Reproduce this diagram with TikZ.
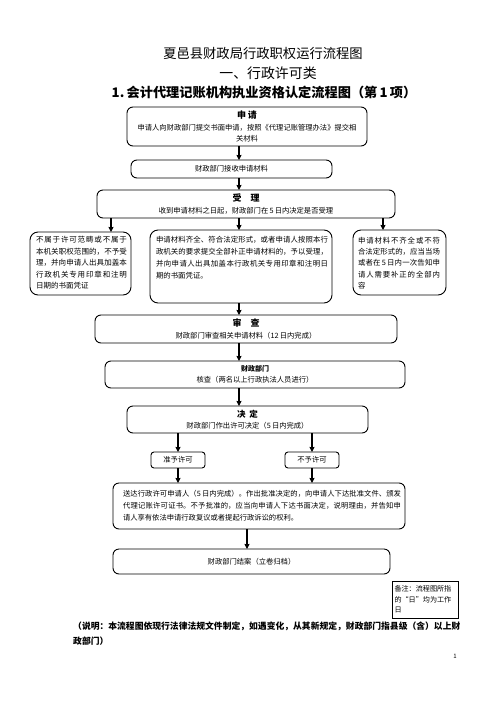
\documentclass[tikz,border=0pt]{standalone}
\usepackage{fontspec}
\setmainfont{Noto Sans CJK SC}
\XeTeXlinebreaklocale "zh"
\XeTeXlinebreakskip=0pt plus 2pt
\usetikzlibrary{arrows.meta, positioning}
\newcommand{\stagetitle}[2][9]{{\fontsize{#1}{#1}\selectfont\bfseries #2}}
\newcommand{\justlines}[1]{\parindent=0pt\parfillskip=0pt #1\hspace*{\fill}\par}
\tikzset{
    flowbox/.style={
        rectangle, rounded corners=6pt, draw=black, line width=0.9pt, fill=white,
        inner sep=0pt, outer sep=0pt, align=center, font=\fontsize{7.3}{11.5}\selectfont
    },
    stagebox/.style={flowbox, minimum height=28pt},
    sidebox/.style={flowbox, rounded corners=8pt},
    choicebox/.style={flowbox, rounded corners=3pt, minimum width=54pt, minimum height=16pt},
    boxtext/.style={inner sep=0pt, outer sep=0pt, align=justify},
    notebox/.style={
        rectangle, draw=black, line width=0.6pt, inner sep=2.5pt, outer sep=0pt, align=left,
        text width=61pt, minimum height=37pt, font=\fontsize{7.1}{10.7}\selectfont
    },
    connection/.style={draw=black, line width=1.2pt, -{Stealth[length=5pt, width=5pt, inset=0.5pt]}}
}
\begin{document}
\begin{tikzpicture}[x=1pt, y=-1pt]
\useasboundingbox (0,0) rectangle (496,702);

% Titles
\node[font=\fontsize{13.3}{16}\selectfont] (maintitle) at (263,53) {夏邑县财政局行政职权运行流程图};
\node[font=\fontsize{13.9}{16}\selectfont] (category) at (268,73) {一、行政许可类};
\node[font=\fontsize{13.2}{16}\selectfont\bfseries] (flowtitle) at (264,92) {1.\,会计代理记账机构执业资格认定流程图（第\,1\,项）};

% Application
\node[flowbox, minimum width=240pt, minimum height=39pt] (apply) at (247,126.5)
    {\stagetitle{申\hspace{2pt}请}\\申请人向财政部门提交书面申请，按照《代理记账管理办法》提交相\\关材料};
\node[flowbox, minimum width=201pt, minimum height=18pt, below=14pt of apply, xshift=-15.5pt] (receive) {财政部门接收申请材料};

% Acceptance
\node[stagebox, minimum width=298pt, below=12pt of receive, xshift=14.5pt] (accept)
    {\stagetitle{受\hspace{9pt}理}\\收到申请材料之日起，财政部门在\,5\,日内决定是否受理};

% Three outcomes
\node[sidebox, minimum width=182pt, minimum height=73pt, below=12pt of accept, xshift=-5pt] (complete) {};
\node[boxtext, text width=172pt, font=\fontsize{7.4}{11.8}\selectfont, below right=6.4pt and 6pt of complete.north west] (completetext)
    {\justlines{申请材料齐全、符合法定形式，或者申请人按照本行\par 政机关的要求提交全部补正申请材料的，予以受理，\par 并向申请人出具加盖本行政机关专用印章和注明日\par 期的书面凭证。}};

\node[sidebox, minimum width=101pt, minimum height=63pt, left=19pt of complete.north west, anchor=north east, yshift=-2pt] (noscope) {};
\node[boxtext, text width=91pt, font=\fontsize{7.5}{11.5}\selectfont, below right=4.5pt and 6pt of noscope.north west] (noscopetext)
    {\justlines{不属于许可范畴或不属于\par 本机关职权范围的，不予受\par 理，并向申请人出具加盖本\par 行政机关专用印章和注明\par 日期的书面凭证}};

\node[sidebox, minimum width=93pt, minimum height=65pt, right=21pt of complete.north east, anchor=north west] (incomplete) {};
\node[boxtext, text width=82pt, font=\fontsize{7.4}{11.1}\selectfont, below right=7.4pt and 5pt of incomplete.north west] (incompletetext)
    {\justlines{申请材料不齐全或不符\par 合法定形式的，应当当场\par 或者在\,5\,日内一次告知申\par 请人需要补正的全部内\par 容}};

% Review and check
\node[stagebox, minimum width=302pt, below=12pt of complete, xshift=5pt] (review)
    {\stagetitle{审\hspace{9pt}查}\\财政部门审查相关申请材料（12\,日内完成）};
\node[flowbox, minimum width=300pt, minimum height=27pt, below=18pt of review, xshift=9pt] (verify)
    {\stagetitle[7]{财政部门}\\核查（两名以上行政执法人员进行）};

% Decision
\node[flowbox, minimum width=241pt, minimum height=27pt, below=18pt of verify, xshift=-7.5pt] (decide)
    {\stagetitle[8.5]{决\hspace{4pt}定}\\财政部门作出许可决定（5\,日内完成）};
\node[choicebox, below=19pt of decide, xshift=-69.5pt] (grant) {准予许可};
\node[choicebox, right=80pt of grant] (deny) {不予许可};

% Notification and closing
\node[flowbox, minimum width=292pt, minimum height=46pt, below=15pt of grant, xshift=81pt] (notify) {};
\node[boxtext, text width=278pt, font=\fontsize{7.3}{12}\selectfont, below right=7pt and 10pt of notify.north west] (notifytext)
    {\parindent=0pt{\parfillskip=0pt 送达行政许可申请人（5\,日内完成）。作出批准决定的，向申请人下达批准文件、颁发\par 代理记账许可证书。不予批准的，应当向申请人下达书面决定，说明理由，并告知申\par}请人享有依法申请行政复议或者提起行政诉讼的权利。\par};
\node[flowbox, minimum width=277pt, minimum height=25pt, below=20pt of notify, xshift=-7.5pt] (close) {财政部门结案（立卷归档）};

% Remark
\node[notebox, below=7pt of close.south east, anchor=north west, xshift=2pt] (remark) {备注：流程图所指\\的“日”均为工作\\日};

% Explanation
\node[anchor=north west, inner sep=0pt, align=left, font=\fontsize{8.8}{15}\selectfont\bfseries] (explain) at (73,621.5)
    {（说明：本流程图依现行法律法规文件制定，如遇变化，从其新规定，财政部门指县级（含）以上财\\政部门）};
\node[font=\fontsize{6}{7}\selectfont] (pagenum) at (455,656) {1};

% Connections
\coordinate (trunk) at (239,0);
\coordinate (leftdrop) at ([xshift=14pt]accept.south west);
\coordinate (rightdrop) at ([xshift=-12pt]accept.south east);
\coordinate (closedrop) at ([xshift=-4.5pt]close.north);
\draw[connection] (apply.south -| trunk) -- (receive.north -| trunk);
\draw[connection] (receive.south -| trunk) -- (accept.north -| trunk);
\draw[connection] (leftdrop) -- (leftdrop |- noscope.north);
\draw[connection] (accept.south -| trunk) -- (complete.north -| trunk);
\draw[connection] (rightdrop) -- (rightdrop |- incomplete.north);
\draw[connection] (complete.south -| trunk) -- (review.north -| trunk);
\draw[connection] (review.south -| trunk) -- (verify.north -| trunk);
\draw[connection] (verify.south -| trunk) -- (decide.north -| trunk);
\draw[connection] (decide.south -| grant.north) -- (grant.north);
\draw[connection] (decide.south -| deny.north) -- (deny.north);
\draw[connection] (grant.south) -- (grant.south |- notify.north);
\draw[connection] (deny.south) -- (deny.south |- notify.north);
\draw[connection] (closedrop |- notify.south) -- (closedrop);

\end{tikzpicture}
\end{document}
